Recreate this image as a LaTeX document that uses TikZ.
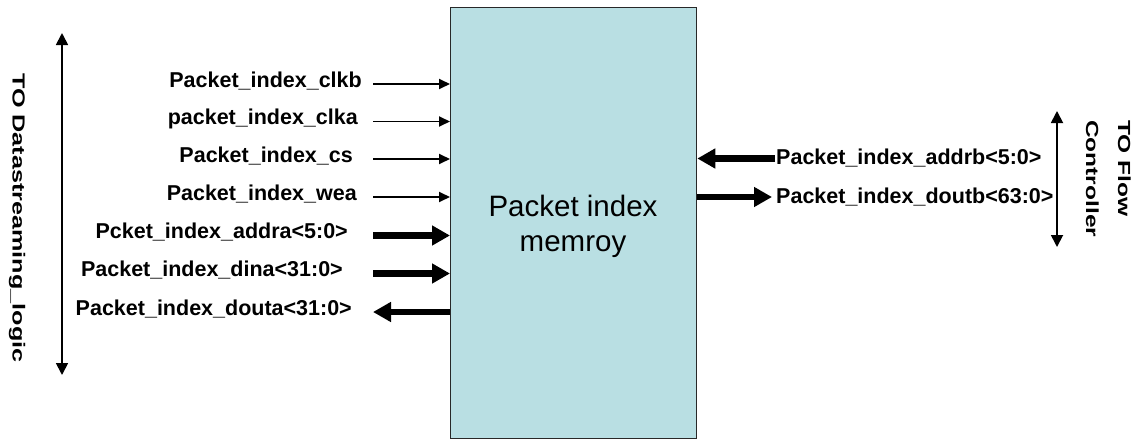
\documentclass[tikz,border=0pt]{standalone}
\usepackage{fontspec}
\usepackage{graphicx}
\setmainfont{Liberation Sans}
\usetikzlibrary{arrows.meta}
\definecolor{memfill}{RGB}{185,223,227}
\definecolor{memline}{RGB}{40,40,40}
\begin{document}
\begin{tikzpicture}[x=1pt,y=-1pt,
  sig/.style={font=\fontsize{21.5}{25}\selectfont\bfseries, inner sep=0pt},
  lsig/.style={sig, anchor=base east},
  rsig/.style={sig, anchor=base west},
  thinarrow/.style={line width=1.8pt, -{Triangle[length=11pt,width=10pt]}},
  busarrow/.style={line width=6.5pt, -{Triangle[length=18pt,width=19pt]}},
  spanarrow/.style={line width=1.8pt, {Triangle[length=12pt,width=12pt]}-{Triangle[length=12pt,width=12pt]}},
  side/.style={font=\fontsize{17.5}{20}\selectfont\bfseries, inner sep=0pt,
    rotate=-90, anchor=north west, align=left}
]
\useasboundingbox[fill=white] (0,0) rectangle (1135,439);

% memory block
\node[draw=memline, fill=memfill, line width=1.3pt, minimum width=246pt,
  minimum height=431pt, inner sep=0pt, anchor=north west] (mem) at (450,7) {};
\node[font=\fontsize{29.5}{35}\selectfont, align=center, inner sep=0pt,
  anchor=north] (title) at (573,195) {Packet index\\memroy};

% port A signals
\node[lsig] (l1) at (362,87)    {Packet\_index\_clkb};
\node[lsig] (l2) at (358,124.5) {packet\_index\_clka};
\node[lsig] (l3) at (353,162)   {Packet\_index\_cs};
\node[lsig] (l4) at (357,200)   {Packet\_index\_wea};
\node[lsig] (l5) at (348,238.5) {Pcket\_index\_addra<5:0>};
\node[lsig] (l6) at (343,276.5) {Packet\_index\_dina<31:0>};
\node[lsig] (l7) at (352,315)   {Packet\_index\_douta<31:0>};

\coordinate (a1) at (373,84);
\coordinate (a2) at (373,121.5);
\coordinate (a3) at (373,159);
\coordinate (a4) at (373,197);
\coordinate (a5) at (373,235.5);
\coordinate (a6) at (373,273.5);
\coordinate (a7) at (373,312);

\draw[thinarrow] (a1) -- (a1 -| mem.west);
\draw[thinarrow] (a2) -- (a2 -| mem.west);
\draw[thinarrow] (a3) -- (a3 -| mem.west);
\draw[thinarrow] (a4) -- (a4 -| mem.west);
\draw[busarrow] (a5) -- (a5 -| mem.west);
\draw[busarrow] (a6) -- (a6 -| mem.west);
\draw[busarrow] (a7 -| mem.west) -- (a7);

% port B signals
\node[rsig] (r1) at (776,164) {Packet\_index\_addrb<5:0>};
\node[rsig] (r2) at (776,203) {Packet\_index\_doutb<63:0>};
\coordinate (b1) at (775,158.5);
\coordinate (b2) at (772,197);
\draw[busarrow] (b1) -- (b1 -| mem.east);
\draw[busarrow] (b2 -| mem.east) -- (b2);

% interface spans
\coordinate (dsTop) at (62,33);
\coordinate (dsBot) at (62,375);
\draw[spanarrow] (dsTop) -- (dsBot);
\node[side] (ds) at (25.5,73) {\scalebox{1.44}[1]{TO Datastreaming\_logic}};

\coordinate (fcTop) at (1057,111);
\coordinate (fcBot) at (1057,247);
\draw[spanarrow] (fcTop) -- (fcBot);
\node[side] (fc) at (1131,120) {\scalebox{1.4}[1]{TO Flow}\\[12pt]\scalebox{1.4}[1]{Controller}};
\end{tikzpicture}
\end{document}
